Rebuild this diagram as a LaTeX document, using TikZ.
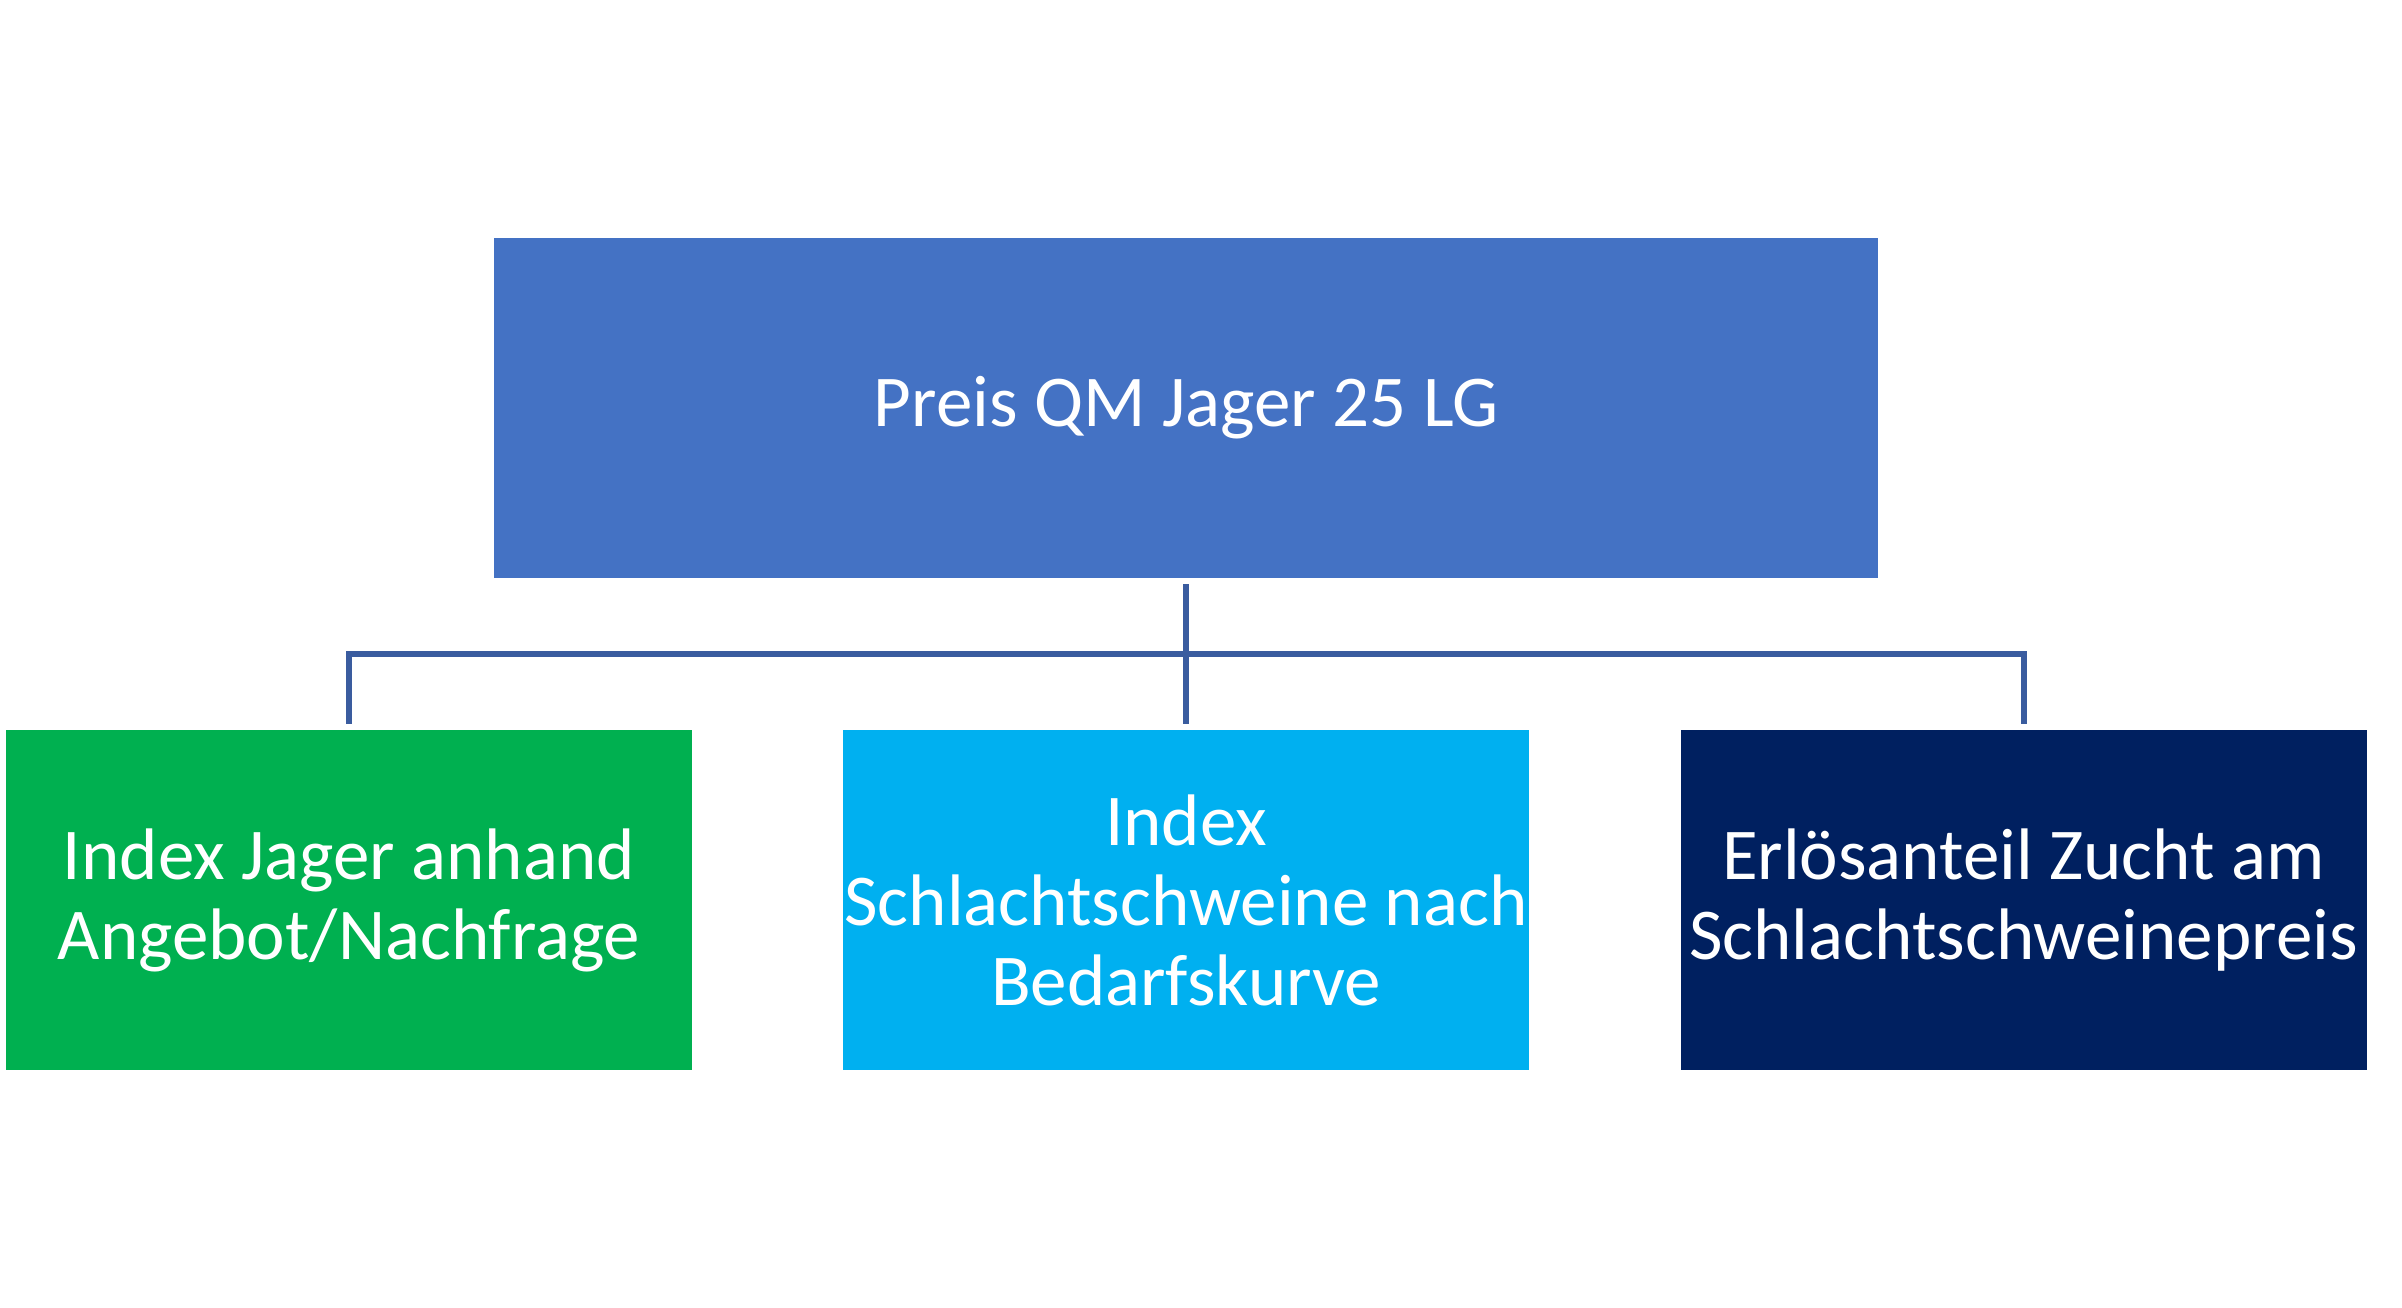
\documentclass[tikz,border=0pt]{standalone}
\usepackage{fontspec}
\setmainfont{Carlito}
\usetikzlibrary{calc}
\definecolor{topblue}{HTML}{4472C4}
\definecolor{boxgreen}{HTML}{00B050}
\definecolor{boxcyan}{HTML}{00B0F0}
\definecolor{boxnavy}{HTML}{002060}
\definecolor{linkblue}{HTML}{3A5C9F}
\tikzset{
  boxbase/.style={rectangle, inner sep=0pt, text=white, align=center,
    font=\fontsize{73}{80}\selectfont},
  topbox/.style={boxbase, fill=topblue, minimum width=1384pt, minimum height=340pt},
  childbox/.style={boxbase, minimum width=686pt, minimum height=340pt},
  conn/.style={draw=linkblue, line width=6pt, line join=miter, line cap=butt}
}
\begin{document}
\begin{tikzpicture}[x=1pt,y=-1pt]
\useasboundingbox[fill=white] (0,0) rectangle (2402,1307);
\node[topbox] (top) at (1186,408) {Preis QM Jager 25 LG};
\node[childbox, fill=boxgreen] (green) at (349,900) {Index Jager anhand\\Angebot/Nachfrage};
\node[childbox, fill=boxcyan] (cyan) at (1186,900) {Index\\Schlachtschweine nach\\Bedarfskurve};
\node[childbox, fill=boxnavy] (navy) at (2023.5,900) {Erlösanteil Zucht am\\Schlachtschweinepreis};
\draw[conn] ($(top.south)+(0,6)$) -- ($(cyan.north)+(0,-6)$);
\draw[conn] ($(green.north)+(0,-6)$) -- ++(0,-70) -| ($(navy.north)+(0,-6)$);
\end{tikzpicture}
\end{document}
